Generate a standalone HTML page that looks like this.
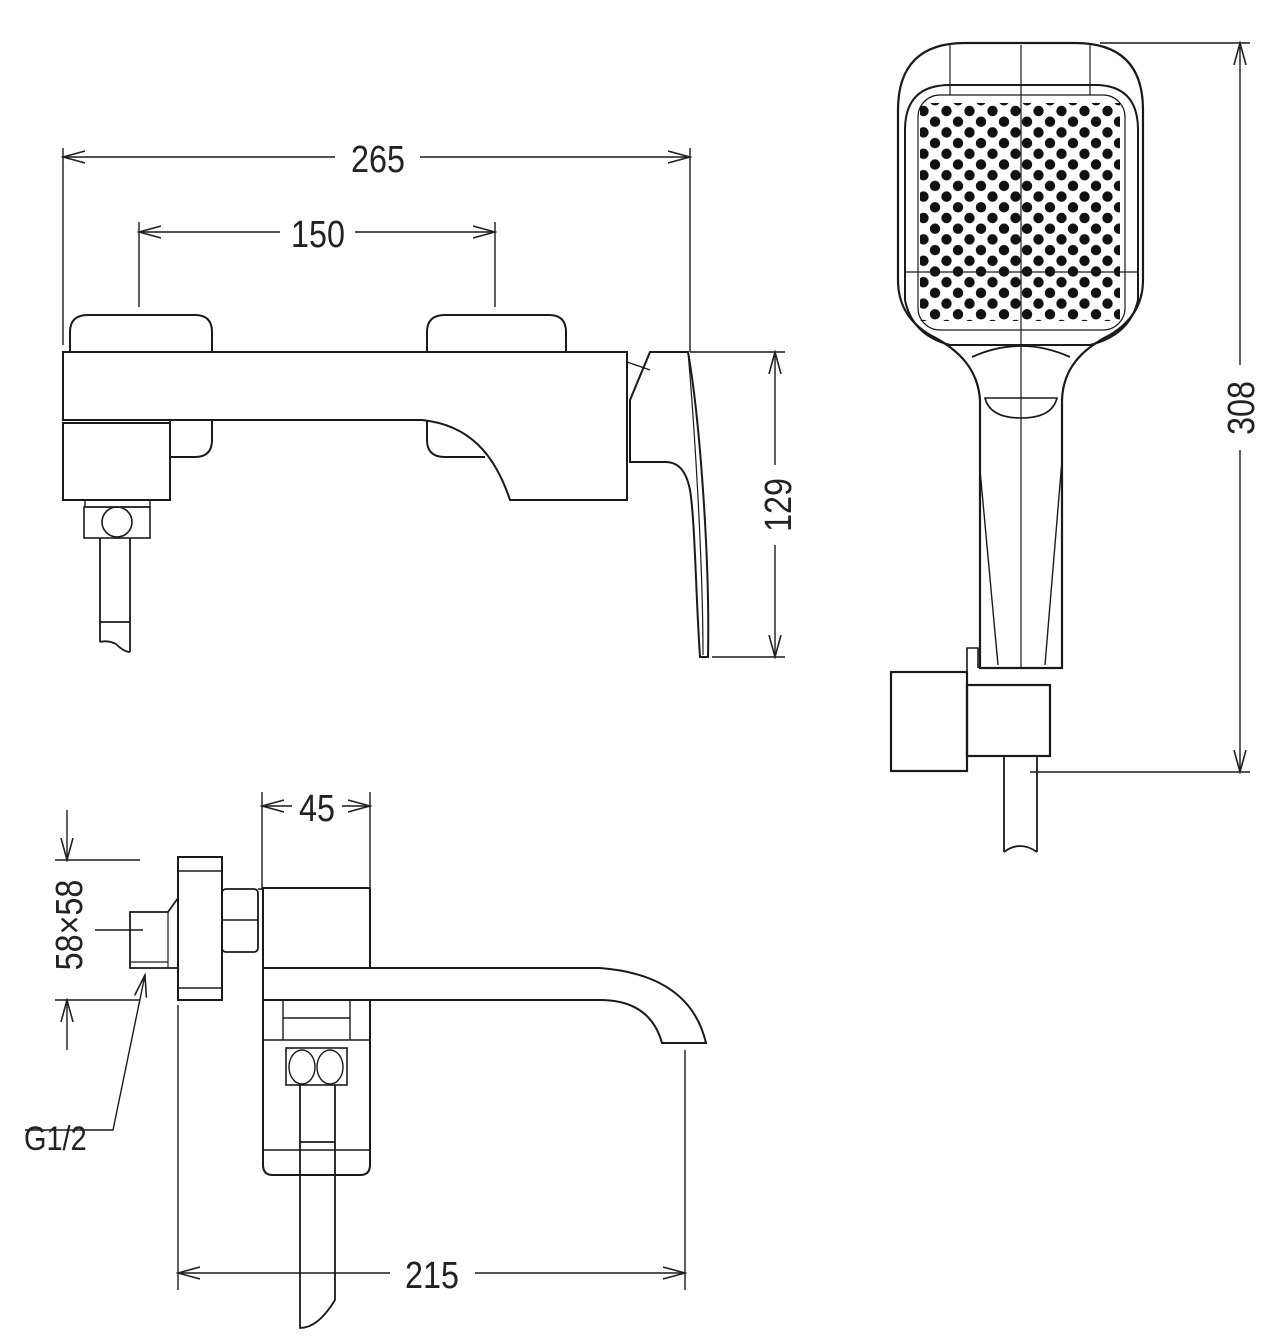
<!DOCTYPE html>
<html><head><meta charset="utf-8"><style>
html,body{margin:0;padding:0;background:#fff}
svg{display:block}
text{font-family:"Liberation Sans",sans-serif;font-size:38px;fill:#222}
</style></head><body>
<svg width="1286" height="1343" viewBox="0 0 1286 1343" xmlns="http://www.w3.org/2000/svg">
<defs>
<marker id="a" markerWidth="24" markerHeight="14" refX="22" refY="7" orient="auto-start-reverse" markerUnits="userSpaceOnUse">
<path d="M0 1 L22 7 L0 13" fill="none" stroke="#222" stroke-width="1.6"/>
</marker>
<pattern id="dots" x="0" y="0" width="23" height="21.4" patternUnits="userSpaceOnUse">
<circle cx="3.5" cy="4" r="5.2" fill="#111"/>
<circle cx="15" cy="14.7" r="5.2" fill="#111"/>
<circle cx="26.5" cy="4" r="5.2" fill="#111"/>
<circle cx="3.5" cy="25.4" r="5.2" fill="#111"/>
</pattern>
</defs>
<g fill="none" stroke="#1a1a1a" stroke-width="2">

<g stroke-width="1.4">
<line x1="63" y1="148" x2="63" y2="345"/>
<line x1="690" y1="148" x2="690" y2="352"/>
<line x1="63" y1="157" x2="335" y2="157" marker-start="url(#a)"/>
<line x1="420" y1="157" x2="690" y2="157" marker-end="url(#a)"/>
<line x1="139" y1="222" x2="139" y2="307"/>
<line x1="495" y1="222" x2="495" y2="307"/>
<line x1="139" y1="232" x2="280" y2="232" marker-start="url(#a)"/>
<line x1="355" y1="232" x2="495" y2="232" marker-end="url(#a)"/>
<line x1="690" y1="352" x2="785" y2="352"/>
<line x1="712" y1="657" x2="785" y2="657"/>
<line x1="775" y1="352" x2="775" y2="465" marker-start="url(#a)"/>
<line x1="775" y1="545" x2="775" y2="657" marker-end="url(#a)"/>
</g>
<path d="M70 352 L70 332 Q70 315 88 315 L195 315 Q212 315 212 332 L212 352"/>
<path d="M170 420 L170 457 L195 457 Q212 457 212 440 L212 420"/>
<path d="M427 352 L427 332 Q427 315 445 315 L549 315 Q566 315 566 332 L566 352"/>
<path d="M427 420 L427 440 Q427 457 445 457 L485 457"/>
<path d="M63 352 L627 352 L627 500 L510 500 C495 455 470 425 422 420 L63 420 Z"/>
<rect x="63" y="423" width="107" height="77"/>
<rect x="85" y="500" width="65" height="7" stroke-width="1.4"/>
<rect x="84" y="507" width="66" height="31" stroke-width="1.6"/>
<circle cx="117" cy="522" r="15" stroke-width="1.6"/>
<path d="M100 538 L100 642 M130 538 L130 652 M100 622 L130 622 M100 642 Q108 640 116 644 Q124 652 130 652" stroke-width="1.8"/>
<path d="M627 362 L650 370" stroke-width="1.4"/>
<path d="M650 352 L688 352 C700 420 710 560 708 657 L700 657 C696 600 695 520 690 490 C686 470 678 462 665 462 L630 462 L630 400 Z" stroke-width="2"/>
<path d="M688 352 C694 420 703 560 703 655" stroke-width="1.2"/>

<g stroke-width="1.4">
<line x1="1100" y1="43" x2="1250" y2="43"/>
<line x1="1030" y1="772" x2="1250" y2="772"/>
<line x1="1240" y1="43" x2="1240" y2="365" marker-start="url(#a)"/>
<line x1="1240" y1="450" x2="1240" y2="772" marker-end="url(#a)"/>
</g>
<path d="M980 668 L980 400 C978 370 960 350 930 335 C905 320 898 300 898 280 L898 110 Q898 43 965 43 L1075 43 Q1143 43 1143 110 L1143 280 C1143 300 1135 320 1110 335 C1080 350 1063 370 1062 400 L1062 668 Z" stroke-width="2.2"/>
<path d="M905 300 L905 130 Q905 85 950 85 L1095 85 Q1138 85 1138 130 L1138 300 Q1130 335 1090 345 L950 345 Q912 335 905 300 Z" stroke-width="2"/>
<rect x="918" y="95" width="207" height="235" rx="22" stroke-width="1.2"/>
<rect x="920" y="103" width="200" height="218" fill="url(#dots)" stroke="none"/>
<line x1="905" y1="272" x2="1138" y2="272" stroke-width="1.2"/>
<line x1="950" y1="45" x2="950" y2="95" stroke-width="1.2"/>
<line x1="1090" y1="45" x2="1090" y2="95" stroke-width="1.2"/>
<line x1="1021" y1="45" x2="1021" y2="668" stroke-width="1.2"/>
<path d="M972 357 Q1021 335 1070 357" stroke-width="1.8"/>
<path d="M985 398 Q990 418 1021 418 Q1052 418 1057 398 Z" stroke-width="1.6"/>
<path d="M980 470 L998 665 M1062 460 L1045 665" stroke-width="1.4"/>
<rect x="891" y="672" width="76" height="99" stroke-width="2.2"/>
<rect x="967" y="685" width="83" height="71" stroke-width="2.2"/>
<path d="M967 685 L967 648 L978 648 L978 668" stroke-width="1.6"/>
<path d="M1004 756 L1004 852 M1037 756 L1037 852 M1004 852 Q1020 840 1037 852" stroke-width="1.8"/>

<g stroke-width="1.4">
<line x1="262" y1="792" x2="262" y2="890"/>
<line x1="370" y1="792" x2="370" y2="890"/>
<line x1="262" y1="806" x2="292" y2="806" marker-start="url(#a)"/>
<line x1="342" y1="806" x2="370" y2="806" marker-end="url(#a)"/>
<line x1="55" y1="860" x2="140" y2="860"/>
<line x1="55" y1="1000" x2="140" y2="1000"/>
<line x1="67" y1="810" x2="67" y2="860" marker-end="url(#a)"/>
<line x1="67" y1="1050" x2="67" y2="1000" marker-end="url(#a)"/>
<line x1="178" y1="1005" x2="178" y2="1290"/>
<line x1="685" y1="1050" x2="685" y2="1290"/>
<line x1="178" y1="1273" x2="390" y2="1273" marker-start="url(#a)"/>
<line x1="475" y1="1273" x2="685" y2="1273" marker-end="url(#a)"/>
<line x1="95" y1="930" x2="143" y2="930"/>
<path d="M25 1130 L113 1130 L145 975" marker-end="url(#a)"/>
</g>
<rect x="178" y="857" width="44" height="143"/>
<line x1="178" y1="871" x2="222" y2="871" stroke-width="1.4"/>
<line x1="178" y1="988" x2="222" y2="988" stroke-width="1.4"/>
<path d="M130 912 L168 912 L178 898 L178 968 L130 968 Z" stroke-width="1.8"/>
<line x1="130" y1="962" x2="168" y2="962" stroke-width="1.2"/>
<line x1="168" y1="912" x2="168" y2="968" stroke-width="1.2"/>
<rect x="222" y="889" width="36" height="63" rx="4" stroke-width="1.8"/>
<line x1="222" y1="920" x2="258" y2="920" stroke-width="1.4"/>
<line x1="258" y1="889" x2="262" y2="889" stroke-width="1.4"/>
<rect x="263" y="888" width="107" height="80"/>
<path d="M263 968 L263 1000 M263 968 L600 968 Q690 975 706 1043 L662 1043 Q650 1000 600 1000 L263 1000" stroke-width="2"/>
<path d="M263 1000 L263 1165 Q263 1175 273 1175 L360 1175 Q370 1175 370 1165 L370 1000" stroke-width="2"/>
<path d="M283 1000 L283 1040 L350 1040 L350 1000 M283 1018 L350 1018 M263 1040 L370 1040 M263 1150 L370 1150" stroke-width="1.4"/>
<rect x="286" y="1048" width="61" height="37" stroke-width="1.6"/>
<ellipse cx="302" cy="1067" rx="13" ry="17" stroke-width="1.4"/>
<ellipse cx="330" cy="1067" rx="13" ry="17" stroke-width="1.4"/>
<path d="M300 1085 L300 1328 Q318 1328 335 1300 L335 1085 M300 1142 L335 1142" stroke-width="1.8"/>
</g>

<g>
<text x="378" y="172" text-anchor="middle" transform="translate(378 0) scale(0.85 1) translate(-378 0)">265</text>
<text x="318" y="247" text-anchor="middle" transform="translate(318 0) scale(0.85 1) translate(-318 0)">150</text>
<text x="317" y="821" text-anchor="middle" transform="translate(317 0) scale(0.85 1) translate(-317 0)">45</text>
<text x="432" y="1288" text-anchor="middle" transform="translate(432 0) scale(0.85 1) translate(-432 0)">215</text>
<text x="24" y="1150" style="font-size:34px" transform="translate(24 0) scale(0.85 1) translate(-24 0)">G1/2</text>
<text transform="translate(791 505) rotate(-90) scale(0.85 1)" text-anchor="middle">129</text>
<text transform="translate(1254 408) rotate(-90) scale(0.85 1)" text-anchor="middle">308</text>
<text transform="translate(82 925) rotate(-90) scale(0.85 1)" text-anchor="middle">58×58</text>
</g>
</svg>
</body></html>
